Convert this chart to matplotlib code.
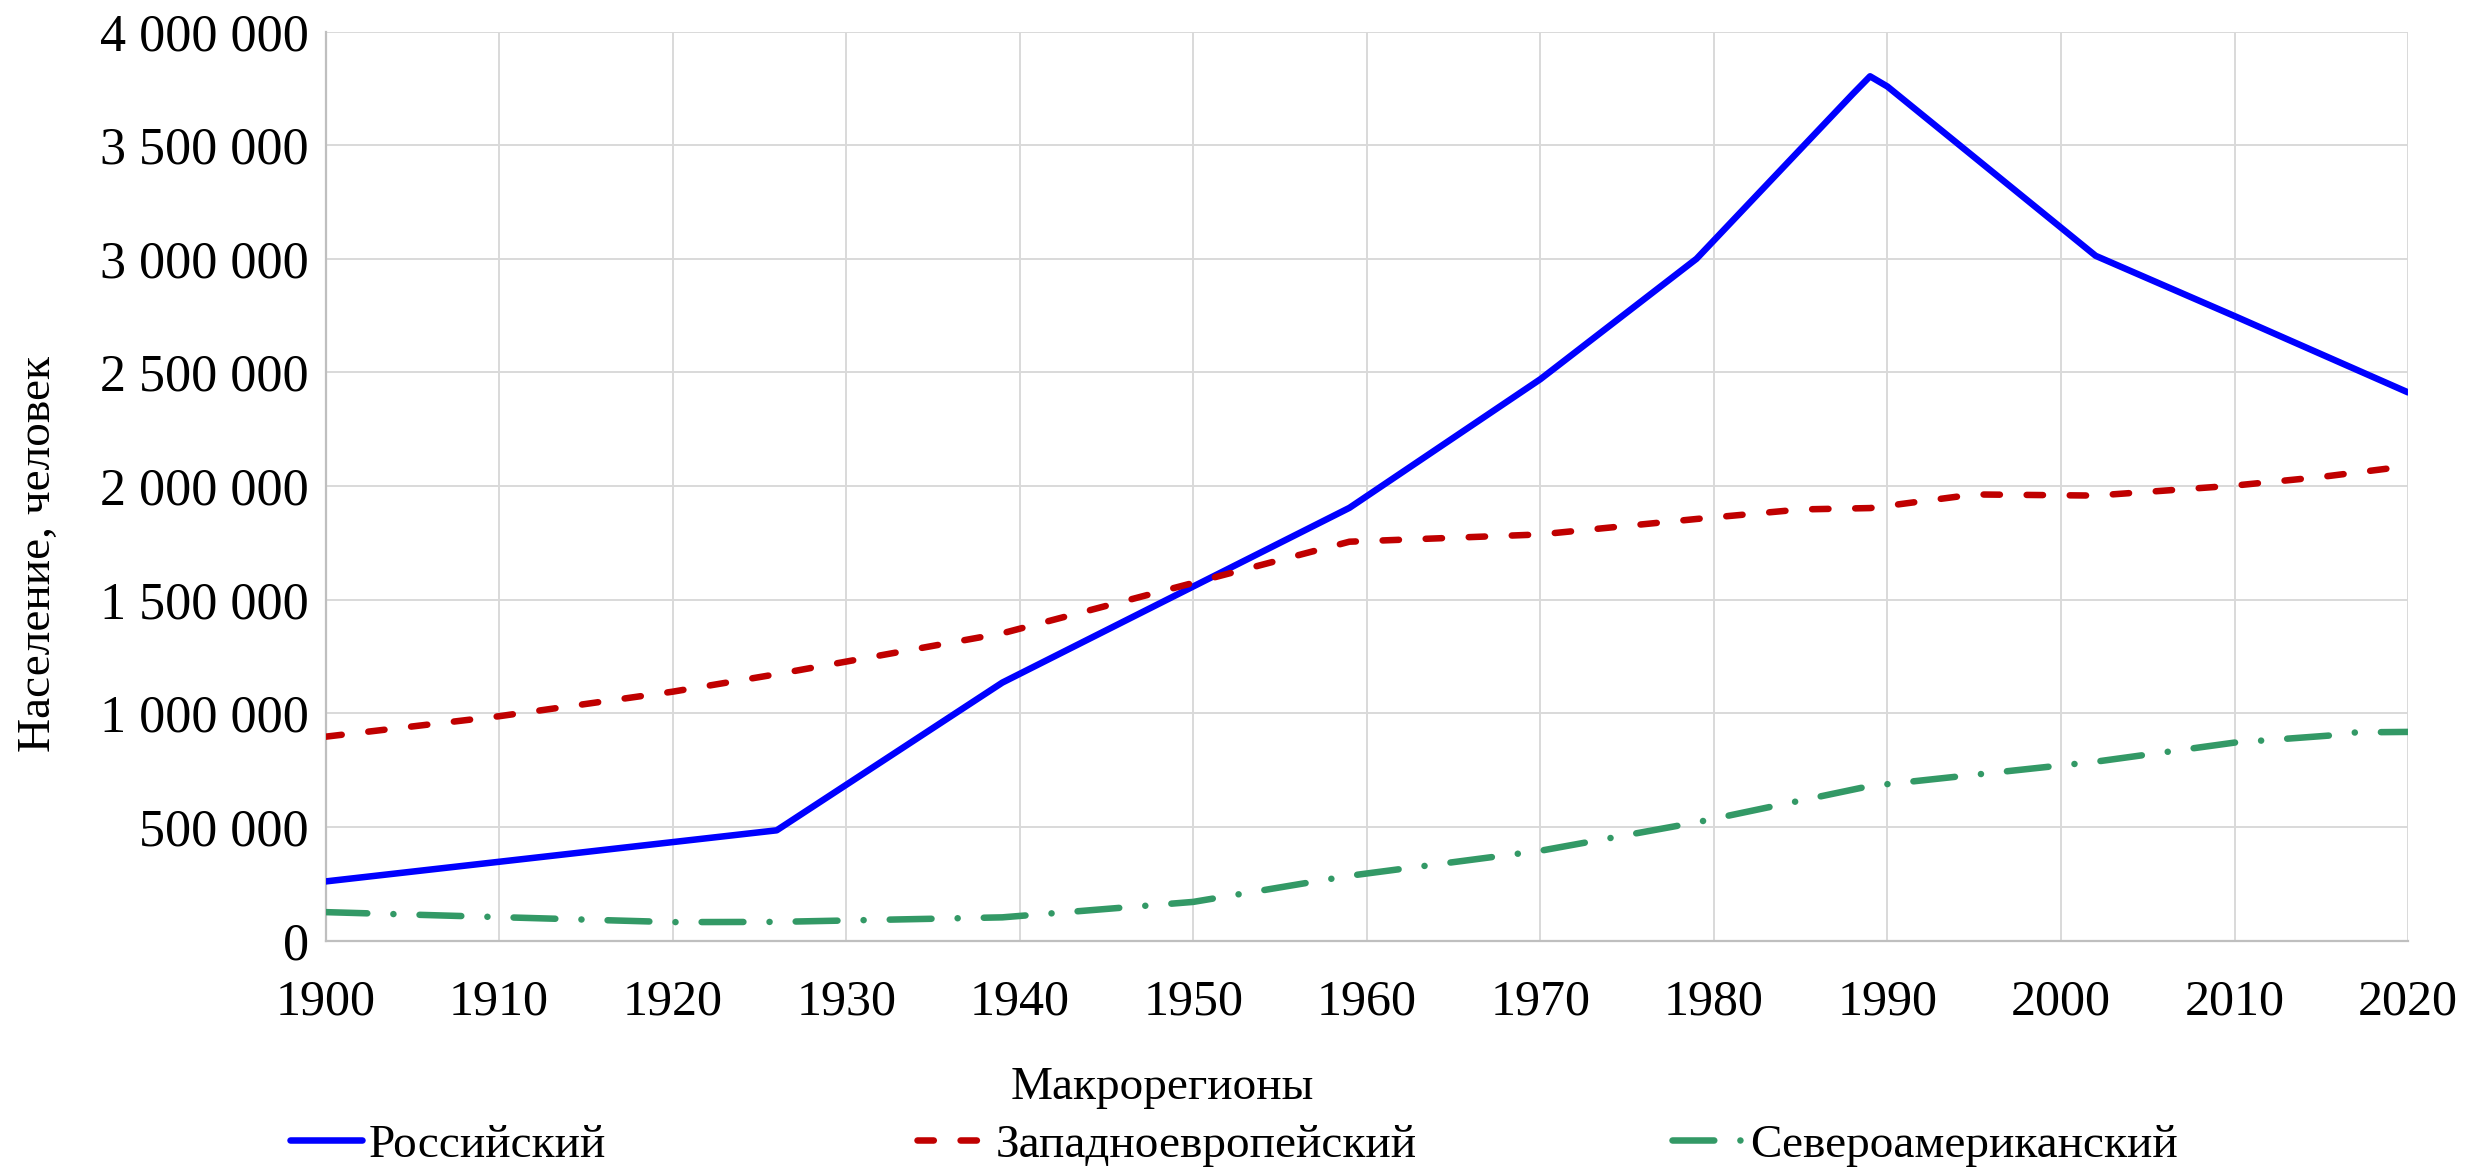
import matplotlib
matplotlib.use("Agg")
import matplotlib.pyplot as plt
from matplotlib.ticker import FuncFormatter, MultipleLocator

plt.rcParams['font.family'] = ['Liberation Serif', 'DejaVu Serif']

# ---- data (thousands of people) ----
years_ru = [1900, 1926, 1939, 1959, 1970, 1979, 1988, 1989, 1990, 2002, 2010, 2020]
vals_ru = [260, 485, 1135, 1904, 2470, 3000, 3725, 3803, 3758, 3013, 2748, 2412]

years_we = [1900, 1910, 1920, 1926, 1939, 1959, 1970, 1979, 1985, 1989, 1995, 2002, 2010, 2015, 2020]
vals_we = [897, 987, 1095, 1172, 1352, 1755, 1787, 1855, 1897, 1903, 1963, 1958, 2002, 2040, 2088]

years_na = [1900, 1910, 1920, 1926, 1939, 1950, 1959, 1970, 1979, 1989, 2002, 2010, 2016, 2017, 2020]
vals_na = [125, 103, 81, 82, 102, 170, 285, 395, 520, 680, 787, 871, 905, 916, 918]

series_names = ["Российский", "Западноевропейский", "Североамериканский"]
x_ticks = list(range(1900, 2021, 10))
y_max = 4_000_000
y_step = 500_000
x_label = "Макрорегионы"
y_label = "Население, человек"

# ---- figure ----
fig = plt.figure(figsize=(24.66, 11.72), dpi=100)
ax = fig.add_axes([0.132, 0.1975, 0.9765 - 0.132, 0.9731 - 0.1975])

lw = 4.7
l1, = ax.plot(years_ru, [v * 1000 for v in vals_ru], color="#0000FF", lw=lw,
              solid_joinstyle="round", solid_capstyle="round", label=series_names[0], zorder=3)
l2, = ax.plot(years_we, [v * 1000 for v in vals_we], color="#C00000", lw=lw,
              dashes=(2.5, 4.1), dash_capstyle="round", dash_joinstyle="round",
              label=series_names[1], zorder=3)
l3, = ax.plot(years_na, [v * 1000 for v in vals_na], color="#339966", lw=lw,
              dashes=(6.4, 4.0, 0.01, 4.0), dash_capstyle="round", dash_joinstyle="round",
              label=series_names[2], zorder=3)

ax.set_xlim(1900, 2020)
ax.set_ylim(0, y_max)
ax.set_xticks(x_ticks)
ax.yaxis.set_major_locator(MultipleLocator(y_step))
ax.yaxis.set_major_formatter(FuncFormatter(lambda v, p: f"{v:,.0f}".replace(",", " ")))

ax.grid(True, color="#D9D9D9", lw=1.4, zorder=0)
ax.set_axisbelow(True)
for s in ["top", "right"]:
    ax.spines[s].set_visible(False)
for s in ["left", "bottom"]:
    ax.spines[s].set_color("#BFBFBF")
    ax.spines[s].set_linewidth(1.6)

ax.tick_params(axis="both", length=0)
ax.tick_params(axis="x", pad=28, labelsize=36)
ax.tick_params(axis="y", pad=12, labelsize=37.5)

ax.set_xlabel(x_label, fontsize=34)
ax.xaxis.set_label_coords(0.4017, -0.1623)
ax.xaxis.label.set_verticalalignment("center")
ax.set_ylabel(y_label, fontsize=34)
ax.yaxis.set_label_coords(-0.1376, 0.425)
ax.yaxis.label.set_verticalalignment("center")

leg_x = [0.1176, 0.3720, 0.678]
for h, xpos in zip([l1, l2, l3], leg_x):
    fig.legend(handles=[h], loc="center left", bbox_to_anchor=(xpos, 0.023),
               frameon=False, fontsize=34, handlelength=1.53, handletextpad=0.13,
               borderaxespad=0, borderpad=0)

fig.savefig("out.png", dpi=100, facecolor="white")
